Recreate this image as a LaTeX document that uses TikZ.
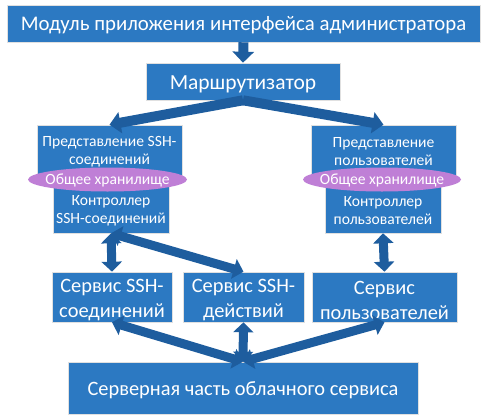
\documentclass[tikz,border=0pt]{standalone}
\usepackage{fontspec}
\setmainfont{Carlito}
\usetikzlibrary{arrows.meta,shapes.geometric}
\definecolor{boxblue}{RGB}{44,121,194}
\definecolor{arrblue}{RGB}{30,93,158}
\definecolor{ellpurple}{RGB}{191,127,214}
\begin{document}
\begin{tikzpicture}[x=1pt,y=-1pt,
 box/.style={draw=black!12,line width=0.6pt,fill=boxblue,inner sep=0pt},
 lbl/.style={text=white,align=center,inner sep=0pt},
 barrow/.style={draw=arrblue,line width=10pt,-{Triangle[width=21pt,length=11pt]}},
 darrow/.style={draw=arrblue,line width=9pt,{Triangle[width=20pt,length=10pt]}-{Triangle[width=20pt,length=10pt]}},
 bigf/.style={font=\fontsize{20.8}{24}\selectfont},
 midf/.style={font=\fontsize{15.6}{18}\selectfont},
 svcf/.style={font=\fontsize{20.4}{25}\selectfont}]
\useasboundingbox (0,0) rectangle (488,418);
% boxes
\node[box,minimum width=473pt,minimum height=37pt] (top) at (243.5,23.5) {};
\node[box,minimum width=194pt,minimum height=37pt] (router) at (243,81.5) {};
\node[box,minimum width=145pt,minimum height=51pt] (viewL) at (109.5,150.5) {};
\node[box,minimum width=145pt,minimum height=51pt] (viewR) at (383.5,150.5) {};
\node[box,minimum width=116pt,minimum height=53pt] (ctrlL) at (111,206.5) {};
\node[box,minimum width=116pt,minimum height=53pt] (ctrlR) at (383,206.5) {};
\node[box,minimum width=120pt,minimum height=50pt] (svc1) at (112,297) {};
\node[box,minimum width=121pt,minimum height=50pt] (svc2) at (243.5,297) {};
\node[box,minimum width=145pt,minimum height=50pt] (svc3) at (384.5,297) {};
\node[box,minimum width=350pt,minimum height=52pt] (server) at (243,388) {};
% texts
\node[lbl,bigf] (topt) at ([yshift=-2pt]top.center) {Модуль приложения интерфейса администратора};
\node[lbl,font=\fontsize{21.5}{24}\selectfont] (routert) at ([yshift=-3pt]router.center) {Маршрутизатор};
\node[lbl,midf] (viewLt) at ([yshift=-1pt]viewL.center) {Представление SSH-\\соединений};
\node[lbl,midf] (viewRt) at ([yshift=-1pt]viewR.center) {Представление\\пользователей};
\node[lbl,midf] (ctrlLt) at ([yshift=-4pt]ctrlL.center) {Контроллер\\SSH-соединений};
\node[lbl,midf] (ctrlRt) at ([yshift=-4pt]ctrlR.center) {Контроллер\\пользователей};
\node[lbl,svcf] (svc1t) at ([yshift=-3pt]svc1.center) {Сервис SSH-\\соединений};
\node[lbl,svcf] (svc2t) at ([yshift=-3pt]svc2.center) {Сервис SSH-\\действий};
\node[lbl,svcf] (svc3t) at ([yshift=-3pt]svc3.center) {Сервис\\пользователей};
\node[lbl,font=\fontsize{20.4}{24}\selectfont] (servert) at ([yshift=-2pt]server.center) {Серверная часть облачного сервиса};
% arrows
\draw[barrow] (top.south) -- (router.north);
\draw[barrow] (router.south) -- (viewL.north);
\draw[barrow] (router.south) -- (viewR.north);
\draw[darrow] (ctrlL.south) -- (svc1.north);
\draw[darrow] (ctrlL.south) -- (svc2.north);
\draw[darrow] (ctrlR.south) -- (svc3.north);
\draw[darrow] (server.north) -- (svc1.south);
\draw[darrow] (server.north) -- (svc2.south);
\draw[darrow] (server.north) -- (svc3.south);
% shared storage
\fill[ellpurple] (107.5,179.5) ellipse [x radius=79.5, y radius=12];
\fill[ellpurple] (382,179.5) ellipse [x radius=79, y radius=12];
\node[lbl,midf] (storeL) at (107.5,180) {Общее хранилище};
\node[lbl,midf] (storeR) at (382,180) {Общее хранилище};
\end{tikzpicture}
\end{document}
